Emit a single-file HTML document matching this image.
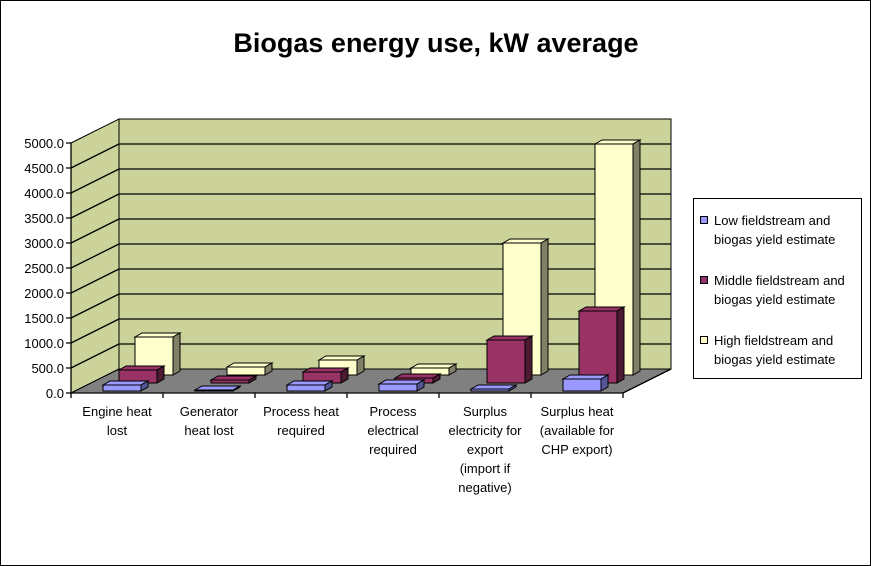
<!DOCTYPE html>
<html><head><style>
body{margin:0;background:#fff}
svg{display:block;font-family:"Liberation Sans",Arial,sans-serif}
</style></head><body>
<svg width="871" height="566" viewBox="0 0 871 566" xmlns="http://www.w3.org/2000/svg">
<rect x="0.5" y="0.5" width="870" height="565" fill="#fff" stroke="#000"/>
<text x="436" y="52" font-size="27" font-weight="bold" text-anchor="middle">Biogas energy use, kW average</text>
<polygon points="119,119 671,119 671,369 119,369" fill="#CCD39A" stroke="#000"/>
<polygon points="71,143 119,119 119,369 71,393" fill="#CCD39A" stroke="#000"/>
<polygon points="71,393 623,393 671,369 119,369" fill="#808080" stroke="#000"/>
<g stroke="#000" stroke-width="1.3" fill="none">
<path d="M119,344H671M119,319H671M119,294H671M119,269H671M119,244H671M119,219H671M119,194H671M119,169H671M119,144H671"/>
<path d="M71,368L119,344M71,343L119,319M71,318L119,294M71,293L119,269M71,268L119,244M71,243L119,219M71,218L119,194M71,193L119,169M71,168L119,144"/>
<path d="M71,143V393H623L671,369"/>
<path d="M66,393H71M66,368H71M66,343H71M66,318H71M66,293H71M66,268H71M66,243H71M66,218H71M66,193H71M66,168H71M66,143H71"/>
<path d="M71,393V398M163,393V398M255,393V398M347,393V398M439,393V398M531,393V398M623,393V398"/>
</g>
<g font-size="13" text-anchor="end">
<text x="64" y="398">0.0</text><text x="64" y="373">500.0</text><text x="64" y="348">1000.0</text><text x="64" y="323">1500.0</text><text x="64" y="298">2000.0</text><text x="64" y="273">2500.0</text><text x="64" y="248">3000.0</text><text x="64" y="223">3500.0</text><text x="64" y="198">4000.0</text><text x="64" y="173">4500.0</text><text x="64" y="148">5000.0</text>
</g>
<g stroke="#000" stroke-width="1">
<g fill="#FFFFCC">
<rect x="135" y="337" width="38" height="38"/><rect x="227" y="367" width="38" height="8"/><rect x="319" y="360" width="38" height="15"/><rect x="411" y="368" width="38" height="7"/><rect x="503" y="243" width="38" height="132"/><rect x="595" y="144" width="38" height="231"/>
<polygon points="135,337 142,333 180,333 173,337"/><polygon points="227,367 234,363 272,363 265,367"/><polygon points="319,360 326,356 364,356 357,360"/><polygon points="411,368 418,364 456,364 449,368"/><polygon points="503,243 510,239 548,239 541,243"/><polygon points="595,144 602,140 640,140 633,144"/>
</g>
<g fill="#808066">
<polygon points="173,375 180,371 180,333 173,337"/><polygon points="265,375 272,371 272,363 265,367"/><polygon points="357,375 364,371 364,356 357,360"/><polygon points="449,375 456,371 456,364 449,368"/><polygon points="541,375 548,371 548,239 541,243"/><polygon points="633,375 640,371 640,140 633,144"/>
</g>
<g fill="#993366">
<rect x="119" y="370" width="38" height="13"/><rect x="211" y="380" width="38" height="3"/><rect x="303" y="372" width="38" height="11"/><rect x="395" y="378" width="38" height="5"/><rect x="487" y="340" width="38" height="43"/><rect x="579" y="311" width="38" height="72"/>
<polygon points="119,370 126,366 164,366 157,370"/><polygon points="211,380 218,376 256,376 249,380"/><polygon points="303,372 310,368 348,368 341,372"/><polygon points="395,378 402,374 440,374 433,378"/><polygon points="487,340 494,336 532,336 525,340"/><polygon points="579,311 586,307 624,307 617,311"/>
</g>
<g fill="#4D1A33">
<polygon points="157,383 164,379 164,366 157,370"/><polygon points="249,383 256,379 256,376 249,380"/><polygon points="341,383 348,379 348,368 341,372"/><polygon points="433,383 440,379 440,374 433,378"/><polygon points="525,383 532,379 532,336 525,340"/><polygon points="617,383 624,379 624,307 617,311"/>
</g>
<g fill="#9999FF">
<rect x="103" y="385" width="38" height="6"/><rect x="195" y="390" width="38" height="1"/><rect x="287" y="385" width="38" height="6"/><rect x="379" y="384" width="38" height="7"/><rect x="471" y="389" width="38" height="2"/><rect x="563" y="379" width="38" height="12"/>
<polygon points="103,385 110,381 148,381 141,385"/><polygon points="195,390 202,386 240,386 233,390"/><polygon points="287,385 294,381 332,381 325,385"/><polygon points="379,384 386,380 424,380 417,384"/><polygon points="471,389 478,385 516,385 509,389"/><polygon points="563,379 570,375 608,375 601,379"/>
</g>
<g fill="#555599">
<polygon points="141,391 148,387 148,381 141,385"/><polygon points="233,391 240,387 240,386 233,390"/><polygon points="325,391 332,387 332,381 325,385"/><polygon points="417,391 424,387 424,380 417,384"/><polygon points="509,391 516,387 516,385 509,389"/><polygon points="601,391 608,387 608,375 601,379"/>
</g>
</g>
<g font-size="13" text-anchor="middle">
<text x="117" y="416">Engine heat</text><text x="117" y="435">lost</text>
<text x="209" y="416">Generator</text><text x="209" y="435">heat lost</text>
<text x="301" y="416">Process heat</text><text x="301" y="435">required</text>
<text x="393" y="416">Process</text><text x="393" y="435">electrical</text><text x="393" y="454">required</text>
<text x="485" y="416">Surplus</text><text x="485" y="435">electricity for</text><text x="485" y="454">export</text><text x="485" y="473">(import if</text><text x="485" y="492">negative)</text>
<text x="577" y="416">Surplus heat</text><text x="577" y="435">(available for</text><text x="577" y="454">CHP export)</text>
</g>
<rect x="693.5" y="198.5" width="168" height="180" fill="#fff" stroke="#000"/>
<g stroke="#000">
<rect x="700.5" y="216.5" width="7" height="7" fill="#9999FF"/>
<rect x="700.5" y="276.5" width="7" height="7" fill="#993366"/>
<rect x="700.5" y="336.5" width="7" height="7" fill="#FFFFCC"/>
</g>
<g font-size="13">
<text x="714" y="225">Low fieldstream and</text><text x="714" y="244">biogas yield estimate</text>
<text x="714" y="285">Middle fieldstream and</text><text x="714" y="304">biogas yield estimate</text>
<text x="714" y="345">High fieldstream and</text><text x="714" y="364">biogas yield estimate</text>
</g>
</svg>
</body></html>
